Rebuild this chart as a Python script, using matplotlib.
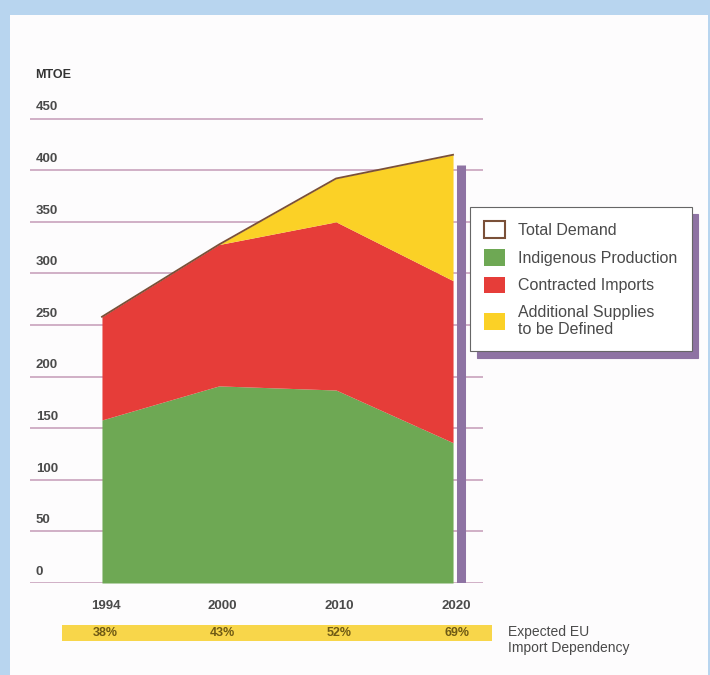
import matplotlib
matplotlib.use("Agg")
import matplotlib.pyplot as plt
from matplotlib.patches import Patch, Rectangle
import numpy as np

years = ["1994", "2000", "2010", "2020"]
total_demand = [258, 328, 392, 415]
indigenous = [158, 191, 187, 136]
contracted_top = [258, 328, 350, 293]
dependency = ["38%", "43%", "52%", "69%"]
yticks = [0, 50, 100, 150, 200, 250, 300, 350, 400, 450]

GREEN = "#6ea854"
RED = "#e63d39"
YELLOW = "#fbd126"
BROWN = "#7a5038"
GRID = "#c9a3bd"
PURPLE = "#8e73a3"
TXT = "#4a4a4a"
FONT = ["Liberation Sans", "DejaVu Sans"]

plt.rcParams["font.family"] = FONT

W, H = 710, 675
fig = plt.figure(figsize=(W / 100, H / 100), dpi=100)
fig.patch.set_facecolor("#b8d5ef")
fig.patches.append(Rectangle((10 / W, 0), (W - 12) / W, (H - 15) / H,
                             transform=fig.transFigure, facecolor="#fdfcfd",
                             edgecolor="none", zorder=-2))
# import dependency band
fig.patches.append(Rectangle((62 / W, 1 - 641 / H), (492 - 62) / W, 16 / H,
                             transform=fig.transFigure, facecolor="#f8d64a",
                             edgecolor="none", zorder=-1))

ax_l, ax_r = 30 / W, 483 / W
ax_b = 1 - 583 / H
ax_t = 1 - 98 / H
ax = fig.add_axes([ax_l, ax_b, ax_r - ax_l, ax_t - ax_b])
ax.set_facecolor("none")
x = np.arange(len(years))
xl, xr = -0.615, 3.256
ax.set_xlim(xl, xr)
ax.set_ylim(0, 470)
for s in ax.spines.values():
    s.set_visible(False)
ax.set_xticks([])
ax.set_yticks([])

for v in yticks:
    ax.axhline(v, color=GRID, lw=1.2, zorder=1)
    ax.text(xl + 0.05, v + 5, str(v), ha="left", va="bottom", fontsize=9.5,
            color=TXT, fontweight="semibold")

ax.fill_between(x, 0, indigenous, color=GREEN, lw=0, zorder=2)
ax.fill_between(x, indigenous, contracted_top, color=RED, lw=0, zorder=2)
ax.fill_between(x, contracted_top, total_demand, color=YELLOW, lw=0, zorder=2)
ax.plot(x, total_demand, color=BROWN, lw=1.3, zorder=3)
ax.plot([x[-1] + 0.07, x[-1] + 0.07], [0, 405], color=PURPLE, lw=6.5,
        solid_capstyle="butt", zorder=3)

fig.text(35 / W, 1 - 75 / H, "MTOE", ha="left", va="center", fontsize=9,
         color="#333333", fontweight="semibold")

for i, yr in enumerate(years):
    ax.text(x[i] + 0.03, -22, yr, ha="center", va="center", fontsize=9.5, color=TXT,
            fontweight="semibold", clip_on=False)

for i, d in enumerate(dependency):
    ax.text(x[i] + 0.03, -48, d, ha="center", va="center", fontsize=9,
            color="#6f5a14", fontweight="bold", clip_on=False)
fig.text(508 / W, 1 - 640 / H, "Expected EU\nImport Dependency", ha="left", va="center",
         fontsize=10, color=TXT, linespacing=1.15)

handles = [
    Patch(facecolor="white", edgecolor=BROWN, lw=1.5),
    Patch(facecolor=GREEN, edgecolor="none"),
    Patch(facecolor=RED, edgecolor="none"),
    Patch(facecolor=YELLOW, edgecolor="none"),
]
labels = ["Total Demand", "Indigenous Production", "Contracted Imports",
          "Additional Supplies\nto be Defined"]
leg = fig.legend(handles, labels, loc="upper left",
                 bbox_to_anchor=(470 / W, 1 - 207 / H), borderaxespad=0,
                 frameon=True, fancybox=False,
                 shadow={"color": PURPLE, "alpha": 1.0, "ox": 5, "oy": -5},
                 fontsize=11.5, handlelength=1.3, handleheight=1.2,
                 labelspacing=0.7, borderpad=0.9, handletextpad=0.8, labelcolor=TXT)
leg.get_frame().set_edgecolor("#666666")
leg.get_frame().set_linewidth(0.8)

fig.savefig("out.png", dpi=100)
